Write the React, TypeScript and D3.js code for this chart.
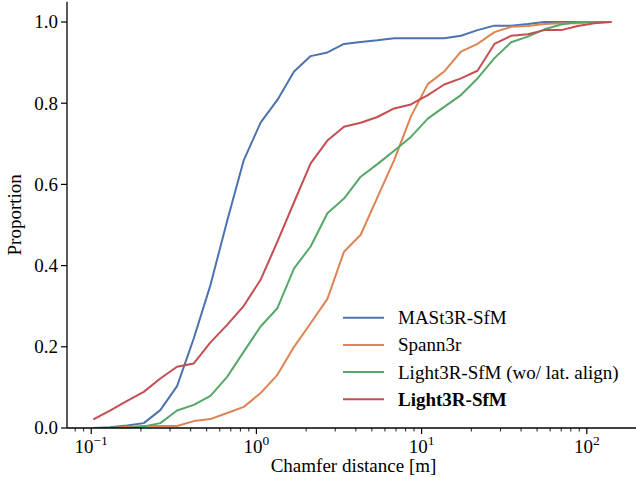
import React from "react"
import * as d3 from "d3"

// chamfer distance thresholds [m]
const thresholds = [0.103, 0.130, 0.165, 0.208, 0.262, 0.331, 0.418, 0.527, 0.665, 0.839, 1.06, 1.34, 1.69, 2.13, 2.69, 3.39,
    4.28, 5.40, 6.82, 8.61, 10.9, 13.7, 17.3, 21.8, 27.6, 34.8, 43.9, 55.4, 70.0, 88.3, 111, 141]

const mast3r = [0.0, 0.002, 0.006, 0.012, 0.044, 0.103, 0.221, 0.352, 0.510, 0.660, 0.752, 0.808, 0.878, 0.916, 0.925, 0.946,
    0.951, 0.955, 0.960, 0.960, 0.960, 0.960, 0.966, 0.980, 0.991, 0.991, 0.995, 1.0, 1.0, 1.0, 1.0, 1.0]
const spann3r = [0.0, 0.0, 0.003, 0.005, 0.005, 0.005, 0.017, 0.022, 0.037, 0.052, 0.086, 0.131, 0.200, 0.258, 0.318, 0.434,
    0.476, 0.568, 0.660, 0.767, 0.847, 0.878, 0.927, 0.946, 0.975, 0.988, 0.990, 0.995, 0.997, 0.997, 1.0, 1.0]
const light3rNoAlign = [0.0, 0.0, 0.0, 0.004, 0.012, 0.043, 0.057, 0.079, 0.126, 0.188, 0.250, 0.295, 0.393, 0.447, 0.529, 0.565,
    0.619, 0.650, 0.683, 0.717, 0.762, 0.791, 0.820, 0.861, 0.911, 0.950, 0.964, 0.982, 0.994, 1.0, 1.0, 1.0]
const light3r = [0.021, 0.043, 0.067, 0.089, 0.122, 0.151, 0.159, 0.211, 0.254, 0.301, 0.365, 0.459, 0.556, 0.652, 0.708, 0.742,
    0.752, 0.766, 0.787, 0.797, 0.820, 0.846, 0.861, 0.880, 0.946, 0.966, 0.970, 0.980, 0.980, 0.990, 0.997, 1.0]

const seriesNames = ["MASt3R-SfM", "Spann3r", "Light3R-SfM (wo/ lat. align)", "Light3R-SfM"]
const seriesValues = [mast3r, spann3r, light3rNoAlign, light3r]
const colors = ["#4C72B0", "#DD8452", "#55A868", "#C44E52"]

const yTicks = [0, 0.2, 0.4, 0.6, 0.8, 1.0]
const xDecades = [-1, 0, 1, 2]

const W = 636, H = 477
const left = 67, bottom = 428, top = 1.7, right = 640
const font = "Liberation Serif, Times New Roman, DejaVu Serif, serif"

export default function App() {
    const xScale = d3.scaleLog().domain([0.1, 100]).range([91.2, 586.8])
    const yScale = d3.scaleLinear().domain([0, 1.05]).range([bottom, top])

    const line = d3.line<[number, number]>()
        .x(d => xScale(d[0]))
        .y(d => yScale(d[1]))

    const minor: number[] = []
    for (let e = -2; e <= 2; e++) {
        for (let m = 2; m <= 9; m++) {
            const v = m * Math.pow(10, e)
            const px = xScale(v)
            if (px >= left && px <= W) minor.push(v)
        }
    }

    const fmt = d3.format(".1f")
    const txt = { fontFamily: font, fontSize: 19 }

    return (
        <svg width={W} height={H} style={{ position: "absolute", left: 0, top: 0, background: "#fff" }}>
            <defs>
                <clipPath id="plotArea">
                    <rect x={left} y={0} width={right - left} height={bottom} />
                </clipPath>
            </defs>
            <g clipPath="url(#plotArea)">
                {seriesValues.map((vals, i) => (
                    <path key={i} d={line(thresholds.map((t, j) => [t, vals[j]] as [number, number])) || ""}
                          fill="none" stroke={colors[i]} strokeWidth={2} strokeLinejoin="round" />
                ))}
            </g>

            {/* spines */}
            <line x1={left} x2={left} y1={top} y2={bottom} stroke="#000" strokeWidth={1.3} />
            <line x1={left} x2={W} y1={bottom} y2={bottom} stroke="#000" strokeWidth={1.3} />

            {/* y axis */}
            {yTicks.map(t => (
                <g key={t}>
                    <line x1={left - 6} x2={left} y1={yScale(t)} y2={yScale(t)} stroke="#000" strokeWidth={1.2} />
                    <text x={left - 9} y={yScale(t)} dy="0.34em" textAnchor="end" style={txt}>{fmt(t)}</text>
                </g>
            ))}
            <text transform={`translate(21,${(top + bottom) / 2}) rotate(-90)`} textAnchor="middle" style={txt}>Proportion</text>

            {/* x axis */}
            {minor.map(v => (
                <line key={v} x1={xScale(v)} x2={xScale(v)} y1={bottom} y2={bottom + 3.5} stroke="#000" strokeWidth={0.9} />
            ))}
            {xDecades.map(e => {
                const px = xScale(Math.pow(10, e))
                return (
                    <g key={e}>
                        <line x1={px} x2={px} y1={bottom} y2={bottom + 6} stroke="#000" strokeWidth={1.2} />
                        <text x={px} y={453} textAnchor="middle" style={txt}>
                            10<tspan dy={-8} style={{ fontSize: 13.5 }}>{e < 0 ? "\u2212" + Math.abs(e) : e}</tspan>
                        </text>
                    </g>
                )
            })}
            <text x={(left + right) / 2} y={472} textAnchor="middle" style={txt}>Chamfer distance [m]</text>

            {/* legend */}
            {seriesNames.map((name, i) => {
                const y = 317.7 + i * 27.2
                return (
                    <g key={name}>
                        <line x1={343} x2={384} y1={y} y2={y} stroke={colors[i]} strokeWidth={2} />
                        <text x={398} y={y} dy="0.34em" style={{ ...txt, fontWeight: i === 3 ? "bold" : "normal" }}>{name}</text>
                    </g>
                )
            })}
        </svg>
    )
}
